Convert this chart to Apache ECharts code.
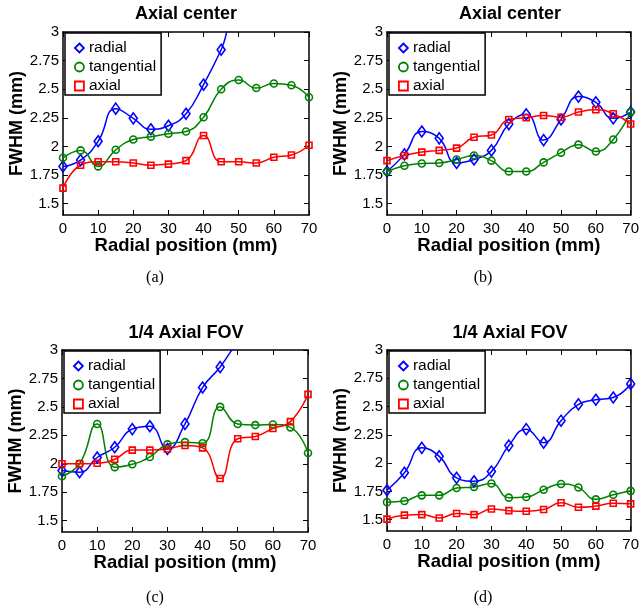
<!DOCTYPE html>
<html>
<head>
<meta charset="utf-8">
<script src="https://cdn.jsdelivr.net/npm/echarts@6.0.0/dist/echarts.min.js"></script>
<style>
  html, body { margin: 0; padding: 0; background: #fff; }
  #chart { width: 642px; height: 610px; }
</style>
</head>
<body>
<div id="chart"></div>
<script>
// radial positions (mm) where FWHM was measured
const positions = [0, 5, 10, 15, 20, 25, 30, 35, 40, 45, 50, 55, 60, 65, 70];
const yTicks = [1.5, 1.75, 2, 2.25, 2.5, 2.75, 3];
const seriesNames = ["radial", "tangential", "axial"];
const panelTitles = ["Axial center", "Axial center", "1/4 Axial FOV", "1/4 Axial FOV"];
const panelCaptions = ["(a)", "(b)", "(c)", "(d)"];

// (a) axial center
const radialA = [1.825, 1.88, 2.045, 2.33, 2.245, 2.15, 2.18, 2.285, 2.54, 2.845, 3.2, 3.15, 3.03, 3.2, 3.35];
const tangentialA = [1.90, 1.965, 1.825, 1.97, 2.06, 2.085, 2.11, 2.13, 2.255, 2.50, 2.58, 2.51, 2.55, 2.535, 2.43];
const axialA = [1.635, 1.835, 1.865, 1.865, 1.855, 1.835, 1.845, 1.875, 2.095, 1.865, 1.865, 1.855, 1.905, 1.925, 2.01];
// (b) axial center
const radialB = [1.78, 1.93, 2.13, 2.07, 1.855, 1.885, 1.965, 2.195, 2.28, 2.055, 2.235, 2.435, 2.385, 2.245, 2.30];
const tangentialB = [1.78, 1.83, 1.85, 1.855, 1.885, 1.92, 1.875, 1.78, 1.78, 1.86, 1.945, 2.015, 1.955, 2.06, 2.30];
const axialB = [1.875, 1.92, 1.95, 1.965, 1.985, 2.08, 2.10, 2.235, 2.25, 2.27, 2.255, 2.30, 2.32, 2.285, 2.195];
// (c) 1/4 axial FOV
const radialC = [1.94, 1.925, 2.055, 2.145, 2.305, 2.33, 2.13, 2.35, 2.67, 2.85, 3.08, 3.3, 3.4, 3.5, 3.6];
const tangentialC = [1.89, 2.0, 2.35, 1.97, 1.995, 2.06, 2.17, 2.19, 2.18, 2.5, 2.35, 2.34, 2.345, 2.32, 2.095];
const axialC = [2.0, 2.0, 2.005, 2.04, 2.12, 2.12, 2.13, 2.16, 2.14, 1.87, 2.22, 2.24, 2.31, 2.37, 2.61];
// (d) 1/4 axial FOV
const radialD = [1.76, 1.915, 2.135, 2.06, 1.87, 1.84, 1.925, 2.155, 2.30, 2.18, 2.375, 2.52, 2.56, 2.58, 2.70];
const tangentialD = [1.655, 1.665, 1.715, 1.715, 1.78, 1.79, 1.82, 1.695, 1.70, 1.765, 1.815, 1.785, 1.68, 1.72, 1.755];
const axialD = [1.505, 1.54, 1.545, 1.515, 1.555, 1.545, 1.595, 1.58, 1.575, 1.59, 1.65, 1.61, 1.62, 1.645, 1.64];

const panelData = [
  [radialA, tangentialA, axialA],
  [radialB, tangentialB, axialB],
  [radialC, tangentialC, axialC],
  [radialD, tangentialD, axialD],
];

const colors = ["#0000ff", "#008000", "#ff0000"];
const symbols = ["diamond", "circle", "rect"];
const symbolSizes = [[8, 11], 7, 6];
const font = "'Liberation Sans', Arial, Helvetica, sans-serif";

const grids = [
  { left: 63, top: 32, width: 246, height: 183 },
  { left: 387, top: 32, width: 246, height: 183 },
  { left: 62, top: 350, width: 246, height: 182 },
  { left: 387, top: 350, width: 246, height: 181 },
];
const titlePos = [[186, 14], [510, 14], [186, 333], [510, 333]];
const captionPos = [[155, 278], [483, 278], [155, 598], [483, 598]];

const xAxes = [];
const yAxes = [];
const series = [];
const legends = [];
const graphics = [];

grids.forEach((g, i) => {
  const frameLine = { show: true, onZero: false, lineStyle: { color: "#000", width: 1.5 } };
  const tick = { show: true, inside: true, length: 5, lineStyle: { color: "#000", width: 1 } };
  xAxes.push({
    gridIndex: i, type: "value", min: 0, max: 70, interval: 10, position: "bottom",
    name: "Radial position (mm)", nameLocation: "middle", nameGap: 18,
    nameTextStyle: { fontSize: 18.5, fontWeight: "bold", fontFamily: font, color: "#000" },
    axisLine: frameLine, axisTick: tick,
    axisLabel: { fontSize: 15, fontFamily: font, color: "#000", margin: 6 },
    splitLine: { show: false },
  });
  xAxes.push({
    gridIndex: i, type: "value", min: 0, max: 70, interval: 10, position: "top",
    axisLine: frameLine, axisTick: tick, axisLabel: { show: false }, splitLine: { show: false },
  });
  yAxes.push({
    gridIndex: i, type: "value", min: 1.4, max: 3, position: "left",
    name: "FWHM (mm)", nameLocation: "middle", nameGap: 37,
    nameTextStyle: { fontSize: 18, fontWeight: "bold", fontFamily: font, color: "#000" },
    axisLine: frameLine,
    axisTick: Object.assign({ customValues: yTicks }, tick),
    axisLabel: { customValues: yTicks, fontSize: 15, fontFamily: font, color: "#000", margin: 4 },
    splitLine: { show: false },
  });
  yAxes.push({
    gridIndex: i, type: "value", min: 1.4, max: 3, position: "right",
    axisLine: frameLine,
    axisTick: Object.assign({ customValues: yTicks }, tick),
    axisLabel: { show: false }, splitLine: { show: false },
  });

  panelData[i].forEach((vals, k) => {
    series.push({
      type: "line", name: seriesNames[k],
      xAxisIndex: 2 * i, yAxisIndex: 2 * i,
      data: positions.map((x, j) => [x, vals[j]]),
      smooth: 0.5, clip: true, showAllSymbol: true,
      symbol: symbols[k], symbolSize: symbolSizes[k],
      itemStyle: { color: "rgba(0,0,0,0)", borderColor: colors[k], borderWidth: 1.6 },
      lineStyle: { color: colors[k], width: 1.5 },
      emphasis: { disabled: true },
    });
  });

  legends.push({
    orient: "vertical", left: g.left + 2, top: g.top + 1,
    backgroundColor: "#fff", borderColor: "#000", borderWidth: 1.5, borderRadius: 0,
    padding: [7, 5, 1, 9], itemGap: 3, itemWidth: 9, itemHeight: 9,
    selectedMode: false,
    textStyle: { fontSize: 15.5, fontFamily: font, color: "#000" },
    data: seriesNames.map((n, k) => ({
      name: n, icon: symbols[k],
      itemStyle: { color: "rgba(0,0,0,0)", borderColor: colors[k], borderWidth: 1.8 },
    })),
  });

  graphics.push({
    type: "text", x: titlePos[i][0], y: titlePos[i][1],
    style: { text: panelTitles[i], fontSize: 18, fontWeight: "bold", fontFamily: font,
             fill: "#000", align: "center", verticalAlign: "middle" },
  });
  graphics.push({
    type: "text", x: captionPos[i][0], y: captionPos[i][1],
    style: { text: panelCaptions[i], fontSize: 16, fontFamily: "'Liberation Serif', 'Times New Roman', serif",
             fill: "#000", align: "center", verticalAlign: "middle" },
  });
});

const chart = echarts.init(document.getElementById("chart"));
chart.setOption({
  animation: false,
  backgroundColor: "#fff",
  grid: grids,
  xAxis: xAxes,
  yAxis: yAxes,
  legend: legends,
  series: series,
  graphic: graphics,
});
</script>
</body>
</html>
